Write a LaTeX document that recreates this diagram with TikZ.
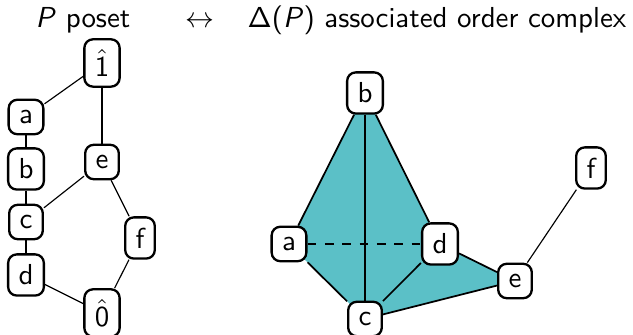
\documentclass[tikz,border=0pt]{standalone}
\usepackage{amsmath,amssymb}
\usepackage{tikz}
\usetikzlibrary{backgrounds}
\renewcommand{\familydefault}{\sfdefault}

\definecolor{simplexfill}{RGB}{91,192,199}

\tikzset{
    elem/.style={draw, thick, rounded corners=3pt, fill=white, inner sep=3.6pt},
    cover/.style={thin},
    face/.style={semithick},
}

\begin{document}
\begin{tikzpicture}[x=0.346pt, y=-0.346pt]
    \useasboundingbox (0,0) rectangle (633,335);

    % Titles
    \node[anchor=base] (tposet) at (83,28) {\textit{P} poset};
    \node[anchor=base] (tarrow) at (200,28) {$\leftrightarrow$};
    \node[anchor=base] (tcomplex) at (437,28) {$\mathsf{\Delta}$(\textit{P}) associated order complex};

    % Hasse diagram of the poset
    \node[elem] (one) at (102,63) {$\hat{\mathsf{1}}$};
    \node[elem] (pa) at (26,117) {a};
    \node[elem] (pb) at (26,169) {b};
    \node[elem] (pc) at (26,222) {c};
    \node[elem] (pd) at (26,275) {d};
    \node[elem] (pe) at (102,162) {e};
    \node[elem] (pf) at (140,238) {f};
    \node[elem] (zero) at (102,313) {$\hat{\mathsf{0}}$};

    \draw[cover] (one) -- (pa);
    \draw[cover] (one) -- (pe);
    \draw[cover] (pa) -- (pb);
    \draw[cover] (pb) -- (pc);
    \draw[cover] (pc) -- (pd);
    \draw[cover] (pc) -- (pe);
    \draw[cover] (pe) -- (pf);
    \draw[cover] (pd) -- (zero);
    \draw[cover] (pf) -- (zero);

    % Order complex
    \node[elem] (b) at (365,93) {b};
    \node[elem] (a) at (289,244) {a};
    \node[elem] (d) at (440,244) {d};
    \node[elem] (c) at (365,319) {c};
    \node[elem] (e) at (515,281) {e};
    \node[elem] (f) at (591,168) {f};

    % Filled faces behind the vertices
    \begin{scope}[on background layer]
        \fill[simplexfill] (a.center) -- (b.center) -- (d.center) -- (e.center) -- (c.center) -- cycle;
    \end{scope}

    \draw[face] (b) -- (a);
    \draw[face] (b) -- (c);
    \draw[face] (b) -- (d);
    \draw[face] (a) -- (c);
    \draw[face] (c) -- (d);
    \draw[face] (d) -- (e);
    \draw[face] (c) -- (e);
    \draw[face, dashed] (a) -- (d);
    \draw[cover] (e) -- (f);
\end{tikzpicture}
\end{document}
